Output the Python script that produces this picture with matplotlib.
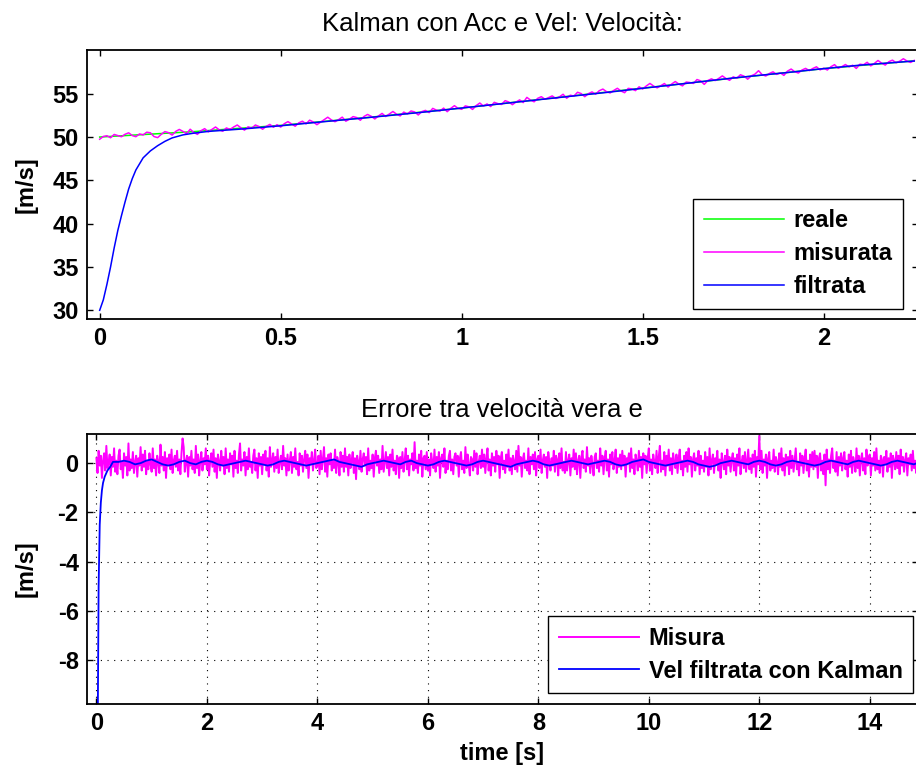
import numpy as np
import matplotlib
matplotlib.use("Agg")
import matplotlib.pyplot as plt

plt.rcParams["font.family"] = ["Liberation Sans", "DejaVu Sans"]
plt.rcParams["axes.unicode_minus"] = False

# --- top panel: velocity (m/s) ---
t_reale = [0, 0.25, 0.5, 0.75, 1.0, 1.25, 1.5, 1.75, 2.0, 2.25]
v_reale = [50.0, 50.6, 51.35, 52.3, 53.35, 54.5, 55.65, 56.8, 57.9, 58.8]

dt_misurata = 0.01
v_misurata = [
    49.75, 50.07, 50.15, 49.92, 50.30, 50.17, 50.04, 50.32, 50.49, 50.17, 50.04, 50.36, 50.24,
    50.56, 50.49, 50.06, 49.93, 50.31, 50.63, 50.51, 50.23, 50.65, 50.88, 50.65, 50.38,
    50.90, 50.53, 50.31, 50.74, 50.97, 50.60, 50.88, 51.16, 50.84, 50.67, 51.05, 50.88, 51.16,
    51.39, 51.07, 50.80, 51.18, 51.01, 51.39, 51.22, 50.90, 51.23, 51.46, 51.14, 51.42,
    51.15, 51.54, 51.78, 51.51, 51.25, 51.64, 51.83, 51.52, 51.95, 51.74, 51.43, 51.72, 52.01,
    52.29, 51.98, 51.77, 52.01, 52.30, 51.83, 52.07, 52.36, 52.25, 51.94, 52.37, 52.61,
    52.40, 52.09, 52.43, 52.73, 52.37, 52.66, 52.95, 52.64, 52.44, 52.88, 52.67, 53.01, 52.90,
    52.55, 52.94, 53.08, 52.82, 53.31, 53.11, 53.00, 53.34, 52.93, 53.32, 53.62, 53.31,
    53.20, 53.60, 53.49, 53.19, 53.63, 53.93, 53.58, 53.82, 53.52, 54.01, 53.86, 53.76, 54.20,
    54.05, 53.74, 54.04, 54.29, 53.98, 54.58, 54.27, 54.07, 54.47, 54.66, 54.36, 54.55,
    54.75, 54.45, 54.64, 54.94, 54.48, 54.83, 54.73, 55.17, 55.02, 54.66, 55.01, 55.21, 54.95,
    55.35, 55.54, 55.24, 55.09, 55.38, 55.63, 55.32, 55.12, 55.62, 55.56, 55.36, 55.80,
    55.55, 55.90, 56.19, 55.89, 55.68, 55.93, 56.18, 55.77, 56.12, 56.41, 56.11, 55.91, 56.35,
    56.30, 56.19, 56.64, 56.49, 56.08, 56.53, 56.72, 56.52, 56.77, 57.06, 56.76, 56.55,
    56.95, 56.79, 57.19, 57.03, 56.68, 57.07, 57.26, 57.66, 57.20, 57.05, 57.34, 57.53, 57.23,
    57.42, 57.12, 57.61, 57.85, 57.55, 57.39, 57.74, 57.93, 57.67, 57.92, 58.11, 57.76,
    57.95, 57.74, 58.12, 58.36, 57.94, 58.13, 58.37, 58.10, 58.29, 57.92, 58.41, 58.35, 58.63,
    58.22, 58.50, 58.84, 58.53, 58.31, 58.70, 58.88, 58.57, 58.76, 59.04, 58.78, 58.61,
    58.85,
]

t_filtrata = [0, 0.01, 0.02, 0.03, 0.04, 0.05, 0.06, 0.07, 0.08, 0.09, 0.10, 0.12, 0.14,
              0.16, 0.18, 0.20, 0.23, 0.26, 0.30, 0.35, 0.40, 0.5, 0.6, 0.75, 0.9, 1.0,
              1.1, 1.25, 1.4, 1.5, 1.6, 1.75, 1.9, 2.0, 2.1, 2.25]
v_filtrata = [30.0, 31.2, 33.0, 35.0, 37.2, 39.2, 40.9, 42.5, 44.0, 45.2, 46.2, 47.6, 48.4,
              49.0, 49.5, 49.9, 50.25, 50.45, 50.65, 50.8, 50.95, 51.3, 51.7, 52.28, 52.9, 53.35,
              53.8, 54.48, 55.15, 55.63, 56.1, 56.82, 57.45, 57.9, 58.3, 58.78]

# --- bottom panel: velocity error (m/s) ---
dt_misura = 0.02
err_misura = [
    .2, -.4, .5, -.1, .3, -.6, .1, .4, -.3, .7, -.2, .0, .35, -.5, .25, -.15, .6, -.35, .1, -.45, .3, .55, -.25, .05, -.6,
    .4, -.1, .25, -.5, .8, -.3, .15, -.2, .45, -.4, .05, .3, -.55, .2, -.1, .65, -.3, .35, -.15, .5, -.45, .1, -.25, .4, -.05,
    -.35, .6, -.2, .15, -.5, .3, .05, -.4, .75, -.1, .25, -.3, .45, -.6, .2, -.05, .35, -.25, .55, -.4, .1, .3, -.15, .5, -.3,
    .15, -.45, .4, 1.0, .65, -.35, .05, .3, -.55, .25, -.1, .5, -.25, .15, -.4, .7, -.2, .35, -.5, .1, .45, -.3, .2, -.05, .6,
    -.25, .3, -.5, .1, .4, -.15, .55, -.35, .2, -.6, .35, .05, -.3, .5, -.1, .25, -.45, .6, -.2, .15, -.35, .4, -.05, .3, -.55,
    .5, -.2, .1, -.4, .35, .8, -.3, .15, -.1, .45, -.5, .25, -.25, .6, -.15, .05, -.4, .3, .55, -.3, .2, -.6, .4, -.1, .25,
    -.45, .35, -.05, .5, -.3, .2, -.55, .65, -.15, .1, .4, -.35, .25, -.2, .55, -.4, .05, .3, -.25, .7, -.1, .2, -.5, .35, -.3,
    .1, .45, -.4, .25, -.15, .6, -.25, .05, -.5, .4, -.1, .3, -.35, .15, .5, -.2, .35, -.6, .2, -.05, .45, -.3, .1, .55, -.2,
    -.1, .3, -.45, .5, -.25, .15, .65, -.35, .2, -.55, .35, -.05, .4, -.3, .1, -.2, .55, -.4, .25, .05, -.5, .45, -.15, .3, -.35,
    .6, -.15, .25, -.5, .35, -.2, .1, .45, -.4, .2, -.65, .3, .05, -.25, .5, -.35, .15, .4, -.1, .25, -.45, .6, -.3, .1, -.2,
    .35, -.55, .2, .5, -.1, .3, -.4, .15, -.25, .7, -.35, .05, .45, -.2, .25, -.5, .35, -.15, .55, -.3, .1, -.45, .3, .2, -.6,
    .25, -.2, .45, -.35, .1, .6, -.25, .3, -.5, .15, -.05, .4, -.3, .85, -.2, .1, -.4, .35, -.1, .5, -.55, .2, .3, -.25, .45,
    -.3, .15, -.5, .4, .05, -.2, .55, -.35, .25, -.1, .45, -.6, .2, .35, -.15, .6, -.4, .1, -.25, .3, .5, -.3, .15, -.45, .25,
    .4, -.1, .3, -.55, .2, .45, -.25, .1, -.4, .65, -.2, .35, -.05, -.5, .25, .15, -.3, .5, -.15, .4, -.45, .05, .3, -.2, .55,
    -.15, .35, -.4, .2, .6, -.3, .15, -.5, .4, -.1, .25, -.35, .5, -.05, .3, -.6, .2, .45, -.25, .1, -.4, .35, -.15, .55, -.3,
    .2, -.45, .3, .05, -.25, .5, -.35, .7, -.1, .25, -.55, .15, .4, -.2, .1, -.3, .6, -.45, .25, -.05, .35, -.25, .45, -.5, .15,
    .3, -.2, .55, -.4, .1, .35, -.15, .25, -.6, .45, .05, -.3, .2, -.1, .5, -.35, .3, .15, -.5, .4, -.2, .6, -.3, .05, -.4,
    .45, -.3, .1, .35, -.5, .2, -.15, .55, -.25, .4, -.45, .1, .3, -.6, .25, .5, -.2, .15, -.35, .65, -.1, .2, -.4, .3, -.05,
    -.5, .25, .4, -.2, .1, -.35, .6, -.1, .3, -.45, .2, .5, -.3, .15, -.55, .35, -.05, .45, -.25, .1, .55, -.4, .2, -.15, .35,
    -.25, .5, -.1, .3, -.55, .2, .05, .4, -.35, .6, -.2, .15, -.45, .35, .1, -.3, .5, -.15, .25, -.6, .4, -.05, .3, -.4, .2,
    .6, -.3, .15, -.45, .35, .05, -.2, .5, -.4, .25, .7, -.35, .1, -.25, .45, -.5, .3, -.1, .55, -.3, .2, -.45, .4, .05, -.2,
    .35, -.4, .2, .55, -.25, .1, -.5, .3, -.15, .45, -.35, .6, -.05, .25, -.55, .15, .4, -.3, .2, -.1, .5, -.45, .3, -.2, .1,
    -.35, .45, -.15, .25, -.5, .6, -.25, .1, .35, -.4, .2, -.05, .5, -.3, .15, -.6, .4, .05, -.25, .3, -.45, .55, -.1, .25, -.35,
    .15, .4, -.3, .2, -.5, .35, -.1, .6, -.45, .05, .3, -.2, .45, -.35, .1, .55, -.25, .2, -.4, .35, -.15, .5, -.55, .25, -.05,
    1.1, -.25, .5, -.4, .15, -.1, .35, -.6, .2, .45, -.3, .1, -.2, .55, -.35, .25, .05, -.45, .4, -.15, .6, -.3, .2, -.5, .35,
    -.1, .25, -.45, .5, -.2, .3, -.35, .15, .6, -.25, .05, -.5, .4, -.1, .3, -.4, .2, .55, -.3, .1, -.55, .35, -.15, .45, -.25,
    .5, -.15, .3, -.6, .2, .4, -.3, .1, -.45, .35, -.9, .55, -.25, .15, -.4, .3, .6, -.2, .1, -.35, .45, -.5, .25, -.1, .4,
    -.3, .2, .45, -.25, .1, -.55, .35, -.15, .5, -.4, .25, .05, -.35, .6, -.2, .3, -.5, .15, .4, -.3, .2, -.45, .55, -.1, .25,
    .35, -.5, .2, -.1, .45, -.3, .6, -.25, .1, -.4, .3, .15, -.55, .25, -.05, .5, -.35, .2, -.15, .4, -.6, .3, .1, -.25, .45,
    -.2, .3, -.45, .55, -.1, .25, -.35, .15, .4, -.5, .2, -.05, .35, -.3, .5, -.2, .1, -.4, .3, .6, -.25, .15, -.45, .35, -.1,
]

# filtered error: start-up transient, then samples every 0.1 s from 0.4 s
t_err_transitorio = [0, 0.02, 0.04, 0.06, 0.08, 0.10, 0.12, 0.15, 0.20, 0.25, 0.30]
err_transitorio = [-20.0, -12.0, -5.0, -2.5, -1.6, -1.1, -0.8, -0.55, -0.3, -0.15, 0.05]
t0_err_filtrata = 0.4
dt_err_filtrata = 0.1
err_filtrata = [
    .05, .1, .05, -.05, 0, .1, .15, .05, -.05, -.1,
    -.05, .05, .1, 0, -.05, .05, .1, .05, -.05, -.1,
    -.05, 0, .05, .1, .05, 0, -.05, -.1, -.05, .05,
    .1, .05, 0, -.05, -.1, -.05, 0, .05, .1, .15,
    .05, 0, -.05, -.1, -.15, -.05, 0, .05, .1, .05,
    0, -.05, .05, .1, 0, -.05, -.1, -.05, .05, .1,
    .05, 0, -.05, -.1, -.05, .05, .1, .05, 0, -.05,
    -.1, -.15, -.05, 0, .05, .1, .05, -.05, -.1, -.05,
    0, .05, .1, .05, 0, -.05, 0, .05, .1, .05,
    -.05, -.1, -.05, .05, .1, .15, .05, 0, -.05, -.1,
    -.05, 0, .05, .1, .05, -.05, -.1, -.15, -.1, 0,
    .05, .1, .05, 0, -.05, .05, .1, .05, -.05, -.1,
    -.05, .05, .1, .05, 0, -.05, -.1, -.05, .05, .1,
    .05, 0, -.05, .05, .1, .05, 0, -.05, -.1, -.05,
    .05, .1, .05, 0, -.05, .05, .1,
]

top_xticks = [0, 0.5, 1, 1.5, 2]
top_xticklabels = ["0", "0.5", "1", "1.5", "2"]
top_yticks = [30, 35, 40, 45, 50, 55]
bot_xticks = [0, 2, 4, 6, 8, 10, 12, 14]
bot_yticks = [-8, -6, -4, -2, 0]

GREEN = (0, 1, 0)
MAGENTA = (1, 0, 1)
BLUE = (0, 0, 1)


def style_axes(ax):
    ax.tick_params(direction="in", length=4.5, width=1.0, top=True, right=True,
                   labelsize=17, pad=6)
    for lbl in ax.get_xticklabels() + ax.get_yticklabels():
        lbl.set_fontweight("bold")
    for sp in ax.spines.values():
        sp.set_linewidth(1.3)
    ax.yaxis.set_label_coords(-0.060, 0.5)


def add_legend(ax, anchor):
    leg = ax.legend(loc="upper right", bbox_to_anchor=anchor,
                    bbox_transform=fig.transFigure, borderaxespad=0,
                    prop=dict(size=17, weight="bold"), fancybox=False,
                    edgecolor="black", framealpha=1, handlelength=3.4,
                    handletextpad=0.4, labelspacing=0.42, borderpad=0.45)
    leg.get_frame().set_linewidth(1.0)
    return leg


fig = plt.figure(figsize=(9.16, 7.76), dpi=100)

# top panel
ax1 = fig.add_axes([0.095, 0.589, 0.907, 0.346])
t_mis = np.arange(len(v_misurata)) * dt_misurata
ax1.plot(t_reale, v_reale, color=GREEN, lw=1.1, label="reale")
ax1.plot(t_mis, v_misurata, color=MAGENTA, lw=1.1, label="misurata")
ax1.plot(t_filtrata, v_filtrata, color=BLUE, lw=1.1, label="filtrata")
ax1.set_xlim(-0.035, 2.26)
ax1.set_ylim(29, 60)
ax1.set_xticks(top_xticks)
ax1.set_xticklabels(top_xticklabels)
ax1.set_yticks(top_yticks)
style_axes(ax1)
ax1.set_title("Kalman con Acc e Vel: Velocità:", fontsize=18.5, pad=14)
ax1.set_ylabel("[m/s]", fontsize=17, fontweight="bold")
add_legend(ax1, (0.986, 0.744))

# bottom panel
ax2 = fig.add_axes([0.095, 0.093, 0.907, 0.348])
t_misura = np.arange(len(err_misura)) * dt_misura
t_err_filt = np.concatenate([t_err_transitorio,
                             t0_err_filtrata + np.arange(len(err_filtrata)) * dt_err_filtrata])
e_filt = np.concatenate([err_transitorio, err_filtrata])
ax2.plot(t_misura, err_misura, color=MAGENTA, lw=1.4, label="Misura")
ax2.plot(t_err_filt, e_filt, color=BLUE, lw=1.3, label="Vel filtrata con Kalman")
ax2.set_xlim(-0.17, 14.87)
ax2.set_ylim(-9.76, 1.19)
ax2.set_xticks(bot_xticks)
ax2.set_yticks(bot_yticks)
ax2.grid(True, color="black", linestyle=(0, (1, 5)), linewidth=0.8)
style_axes(ax2)
ax2.set_title("Errore tra velocità vera e", fontsize=18.5, pad=12)
ax2.set_ylabel("[m/s]", fontsize=17, fontweight="bold")
ax2.set_xlabel("time [s]", fontsize=17, fontweight="bold", labelpad=5)
add_legend(ax2, (0.997, 0.206))

fig.savefig("out.png", dpi=100)
